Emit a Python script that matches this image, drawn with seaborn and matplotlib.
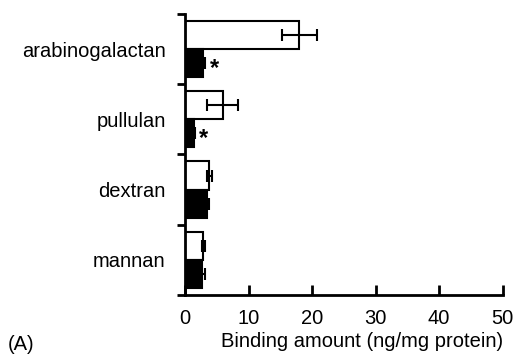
import pandas as pd
import matplotlib
matplotlib.use('Agg')
import matplotlib.pyplot as plt
import seaborn as sns

# values (ng/mg protein)
categories = ['arabinogalactan', 'pullulan', 'dextran', 'mannan']
groups = ['open', 'filled']
open_vals = [18.0, 5.9, 3.8, 2.9]
open_err = [2.7, 2.4, 0.4, 0.3]
filled_vals = [2.9, 1.4, 3.5, 2.7]
filled_err = [0.3, 0.2, 0.2, 0.4]
significant = [True, True, False, False]  # asterisk on the filled bar

df = pd.DataFrame({
    'category': categories * 2,
    'group': [groups[0]] * 4 + [groups[1]] * 4,
    'value': open_vals + filled_vals,
})

sns.set_style('ticks', {'axes.edgecolor': 'black', 'text.color': 'black',
                        'xtick.color': 'black', 'ytick.color': 'black',
                        'axes.labelcolor': 'black'})
plt.rcParams['font.family'] = ['Liberation Sans', 'DejaVu Sans']

fig = plt.figure(figsize=(5.14, 3.6), dpi=100)
ax = fig.add_axes([0.36, 0.181, 0.618, 0.78])

sns.barplot(data=df, x='value', y='category', hue='group', order=categories,
            hue_order=groups, palette={'open': 'white', 'filled': 'black'},
            edgecolor='black', linewidth=1.5, errorbar=None, orient='h',
            width=0.8, legend=False, ax=ax)

# error bars from the arrays, placed on the drawn bars
for cont, vals, errs in zip(ax.containers, [open_vals, filled_vals], [open_err, filled_err]):
    ys = [p.get_y() + p.get_height() / 2 for p in cont.patches]
    ax.errorbar(vals, ys, xerr=errs, fmt='none', ecolor='black',
                elinewidth=1.5, capsize=4.5, capthick=1.5, zorder=3)

# asterisks beside the filled bars
for p, v, e, sig in zip(ax.containers[1].patches, filled_vals, filled_err, significant):
    if sig:
        ax.annotate('*', (v + e, p.get_y() + p.get_height() / 2),
                    xytext=(3, -4), textcoords='offset points',
                    ha='left', va='center', fontsize=17, fontweight='bold',
                    color='black')

ax.set_xlim(0, 50)
ax.set_ylim(len(categories) - 0.5, -0.5)
ax.set_xticks([0, 10, 20, 30, 40, 50])
ax.set_yticks([i - 0.5 for i in range(len(categories) + 1)], minor=True)

for side in ['top', 'right']:
    ax.spines[side].set_visible(False)
for side in ['left', 'bottom']:
    ax.spines[side].set_linewidth(2)
    ax.spines[side].set_color('black')

ax.tick_params(axis='y', which='major', left=True, length=0, pad=14,
               labelsize=14.5, labelcolor='black')
ax.tick_params(axis='y', which='minor', left=True, length=6, width=2,
               direction='out', color='black')
ax.tick_params(axis='x', which='major', bottom=True, length=7, width=2,
               direction='in', pad=10, labelsize=14.5, color='black',
               labelcolor='black')

ax.set_ylabel('')
ax.set_xlabel('Binding amount (ng/mg protein)', fontsize=14.5, loc='right',
              labelpad=3, color='black')
fig.text(0.015, 1 - 345 / 360, '(A)', fontsize=14.5, va='center', ha='left',
         color='black')

plt.savefig('out.png', dpi=100)
